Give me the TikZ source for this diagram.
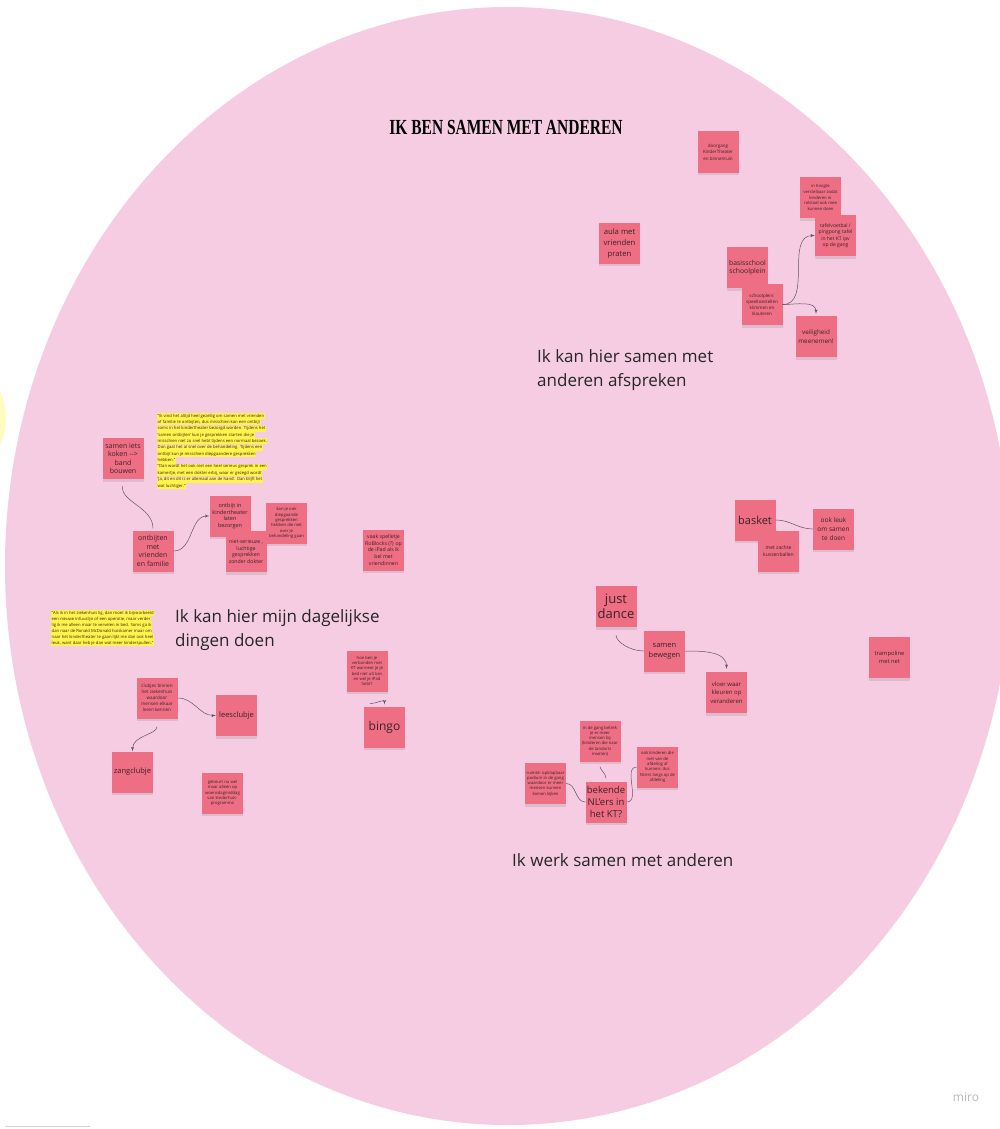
\documentclass[tikz,border=0pt]{standalone}
\usepackage{fontspec}
\setmainfont{Open Sans}
\newfontfamily\titlefont{Liberation Serif}
\usepackage{tikz}
\usetikzlibrary{arrows}
\usetikzlibrary{shadows}

\definecolor{bgpink}{HTML}{F6CCE2}
\definecolor{notered}{HTML}{EE6E84}
\definecolor{notetext}{HTML}{3B2328}
\definecolor{hlyellow}{HTML}{FFF54A}
\definecolor{linkgray}{HTML}{5E5560}

\tikzset{
  note/.style 2 args={fill=notered, text=notetext, minimum width=41pt, minimum height=41pt,
    inner sep=1pt, align=center, font=\fontsize{#1}{#2}\selectfont,
    drop shadow={shadow xshift=0pt, shadow yshift=-2.5pt, opacity=.22}},
  link/.style={draw=linkgray, line width=.5pt},
  quoteline/.style={fill=hlyellow, anchor=west, inner xsep=.5pt, inner ysep=.9pt,
    text height=3.2pt, text depth=1.1pt, font=\fontsize{4.2}{5}\selectfont, text=notetext},
  heading/.style={anchor=north west, align=left, inner sep=0pt,
    font=\fontsize{17}{24}\selectfont, text=black!85},
}

\begin{document}
\begin{tikzpicture}[x=1pt, y=-1pt]
    %% canvas
    \useasboundingbox (0,0) rectangle (1000,1129);
    \fill[white] (0,0) rectangle (1000,1129);
    \clip (0,0) rectangle (1000,1129);
    \fill[yellow!25] (-60,418) circle [radius=66pt];
    \fill[bgpink] (508,566) ellipse [x radius=503pt, y radius=559pt];
    \draw[gray!35, line width=1pt] (5,1126) -- (90,1126);
    \node[text=gray!55, font=\fontsize{12}{14}\selectfont] (miro) at (966,1097) {miro};

    %% headings
    \node (title) at (506,127) {\scalebox{0.72}[1]{\titlefont\bfseries\fontsize{21.5}{23}\selectfont IK BEN SAMEN MET ANDEREN}};
    \node[heading] (afspreken) at (537,349) {Ik kan hier samen met\\anderen afspreken};
    \node[heading] (dagelijks) at (175,609) {Ik kan hier mijn dagelijkse\\dingen doen};
    \node[heading] (werk) at (512,853) {Ik werk samen met anderen};

    %% quotes
    \foreach \txt [count=\i] in {%
        {"Ik vind het altijd heel gezellig om samen met vrienden},
        {of familie te ontbijten, dus misschien kan een ontbijt},
        {soms in het kindertheater bezorgd worden. Tijdens het},
        {'samen ontbijten' kun je gesprekken starten die je},
        {misschien niet zo snel hebt tijdens een normaal bezoek.},
        {Dan gaat het al snel over de behandeling. Tijdens een},
        {ontbijt kun je misschien diepgaandere gesprekken},
        {hebben."},
        {"Dan wordt het ook niet een heel serieus gesprek in een},
        {kamertje, met een dokter erbij, waar er gezegd wordt},
        {'Ja, dit en dit is er allemaal aan de hand'. Dan blijft het},
        {wat luchtiger."}}
        \node[quoteline] (ontbijtquote-\i) at (157,{416+6.36*(\i-1)}) {\txt};
    \foreach \txt [count=\i] in {%
        {"Als ik in het ziekenhuis lig, dan moet ik bijvoorbeeld},
        {een nieuwe infuuslijn of een operatie, maar verder},
        {lig ik me alleen maar te vervelen in bed. Soms ga ik},
        {dan naar de Ronald McDonald huiskamer maar om},
        {naar het kindertheater te gaan lijkt me dan ook heel},
        {leuk, want daar heb je dan wat meer kinderspullen."}}
        \node[quoteline] (ziekenhuisquote-\i) at (51,{613+6*(\i-1)}) {\txt};

    %% afspreken
    \node[note={4.5}{6.5}] (doorgang) at (718,152) {doorgang\\KinderTheater\\en binnentuin};
    \node[note={4.2}{5.6}] (hoogte) at (820.5,197.5) {in hoogte\\verstelbaar zodat\\kinderen in\\rolstoel ook mee\\kunnen doen};
    \node[note={5}{6.5}] (tafelvoetbal) at (835.5,235.5) {tafelvoetbal /\\pingpong tafel\\in het KT ipv\\op de gang};
    \node[note={7.7}{11}] (aula) at (619.5,243) {aula met\\vrienden\\praten};
    \node[note={6.8}{8.3}] (basisschool) at (747.5,267.5) {basisschool\\schoolplein};
    \node[note={4.5}{6}] (schoolplein) at (762,304.5) {schoolplein:\\speeltoestellen\\klimmen en\\klauteren};
    \node[note={6.3}{9}] (veiligheid) at (816,336.5) {veiligheid\\meenemen!};

    %% dagelijkse dingen
    \node[note={7}{8.3}] (koken) at (123,458.5) {samen iets\\koken {-}{-}>\\band\\bouwen};
    \node[note={7}{8.5}] (ontbijten) at (153,551) {ontbijten\\met\\vrienden\\en familie};
    \node[note={5.5}{6.6}] (bezorgen) at (230,516) {ontbijt in\\kindertheater\\laten\\bezorgen};
    \node[note={4.2}{5.3}] (diepgaand) at (286.5,523) {kan je ook\\diepgaande\\gesprekken\\hebben die niet\\over je\\behandeling gaan};
    \node[note={5.2}{6.6}] (luchtig) at (246,551.5) {niet-serieuze ,\\luchtige\\gesprekken\\zonder dokter};
    \node[note={5.2}{6.8}] (roblocks) at (383.5,550) {vaak spelletje\\RoBlocks (?) op\\de iPad als ik\\bel met\\vriendinnen};
    \node[note={4.2}{5.3}] (verbonden) at (367,671) {hoe ben je\\verbonden met\\KT wanneer je je\\bed niet uit kan\\en wel je iPad\\hebt?};
    \node[note={12}{14}] (bingo) at (384.5,727) {bingo};
    \node[note={4.6}{6}] (clubjes) at (157,698) {clubjes binnen\\het ziekenhuis\\waardoor\\mensen elkaar\\leren kennen};
    \node[note={7.5}{9}] (leesclubje) at (236.5,715.5) {leesclubje};
    \node[note={7.5}{9}] (zangclubje) at (132.5,772) {zangclubje};
    \node[note={4.2}{5.4}] (woensdag) at (222.5,793) {gebeurt nu wel\\maar alleen op\\woensdagmiddag\\van kinderhuis-\\programma};

    %% bewegen
    \node[note={11}{13}] (basket) at (755,520) {basket};
    \node[note={5}{6.7}] (kussenballen) at (778.5,551) {met zachte\\kussenballen};
    \node[note={6.5}{9}] (ookleuk) at (833.5,529) {ook leuk\\om samen\\te doen};
    \node[note={13}{15.5}] (justdance) at (616,606.5) {just\\dance};
    \node[note={7.5}{10}] (bewegen) at (664.5,651) {samen\\bewegen};
    \node[note={6}{8.5}] (vloer) at (726.5,692.5) {vloer waar\\kleuren op\\veranderen};
    \node[note={5.8}{7.5}] (trampoline) at (889.5,657.5) {trampoline\\met net};

    %% samen werken
    \node[note={4.2}{5.3}] (gang) at (600,741) {In de gang betrek\\je er meer\\mensen bij\\(kinderen die naar\\de tandarts\\moeten)};
    \node[note={4.2}{5.3}] (afdeling) at (657.5,767) {ook kinderen die\\niet van de\\afdeling af\\kunnen: dus\\NL'ers langs op de\\afdeling};
    \node[note={4.2}{5.3}] (podium) at (545.5,783.5) {ruimte: opklapbaar\\podium in de gang\\waardoor er meer\\mensen kunnen\\komen kijken};
    \node[note={9.5}{11.7}] (bekende) at (606,802) {bekende\\NL'ers in\\het KT?};

    %% links
    \draw[link, -latex'] (schoolplein.east) to[out=0, in=180] (tafelvoetbal.west);
    \draw[link, -latex'] (schoolplein.east) to[out=0, in=90] ([yshift=2pt]veiligheid.north);
    \draw[link, shorten <=7pt, shorten >=2pt] (koken.south) to[out=-95, in=90] (ontbijten.north);
    \draw[link, -latex'] (ontbijten.east) to[out=0, in=180] (bezorgen.west);
    \draw[link, -latex'] (clubjes.east) to[out=0, in=180] (leesclubje.west);
    \draw[link, -latex', shorten <=8pt] (clubjes.south) to[out=-90, in=90] (zangclubje.north);
    \draw[link, -latex'] ([xshift=3pt, yshift=-12pt]verbonden.south) to[out=0, in=90] ([yshift=2pt]bingo.north);
    \draw[link] (basket.east) to[out=0, in=180] (ookleuk.west);
    \draw[link, shorten <=8pt] (justdance.south) to[out=-90, in=180] (bewegen.west);
    \draw[link, -latex'] (bewegen.east) to[out=0, in=90] ([yshift=3pt]vloer.north);
    \draw[link, shorten <=5pt, shorten >=3pt] (gang.south) to[out=-90, in=90] (bekende.north);
    \draw[link] (bekende.west) to[out=180, in=0] (podium.east);
    \draw[link] (bekende.east) to[out=0, in=180] (afdeling.west);
\end{tikzpicture}
\end{document}
